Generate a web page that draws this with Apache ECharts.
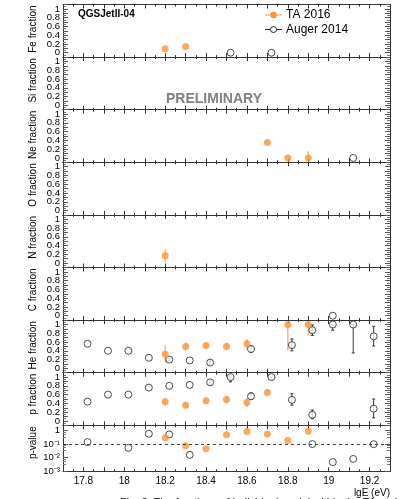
<!DOCTYPE html>
<html>
<head>
<meta charset="utf-8">
<script src="https://cdn.jsdelivr.net/npm/echarts@6/dist/echarts.min.js"></script>
<style>html,body{margin:0;padding:0;background:#fff;}#c{width:403px;height:499px;}</style>
</head>
<body>
<div id="c"></div>
<script>
// ---- data ----
const xTA = [18.2, 18.3, 18.4, 18.5, 18.6, 18.7, 18.8, 18.9];
const xAuger = [17.82, 17.92, 18.02, 18.12, 18.22, 18.32, 18.42, 18.52, 18.62, 18.72, 18.82, 18.92, 19.02, 19.12, 19.22];

const panelNames = ['Fe fraction', 'Si fraction', 'Ne fraction', 'O fraction', 'N fraction', 'C fraction', 'He fraction', 'p fraction', 'p-value'];

const feTA = [0.09, 0.14, null, null, null, null, null, null];
const feAuger = [null, null, null, null, null, null, null, 0, null, 0, null, null, null, null, null];
const siTA = [null, null, null, null, null, null, null, null];
const siAuger = [null, null, null, null, null, null, null, null, null, null, null, null, null, null, null];
const neTA = [null, null, null, null, null, 0.35, 0, 0];
const neTAerr = [null, null, null, null, null, [0.31, 0.39], [0, 0.02], [0, 0.15]];
const neAuger = [null, null, null, null, null, null, null, null, null, null, null, null, null, 0, null];
const oTA = [null, null, null, null, null, null, null, null];
const oAuger = [null, null, null, null, null, null, null, null, null, null, null, null, null, null, null];
const nTA = [0.17, null, null, null, null, null, null, null];
const nTAerr = [[0.02, 0.32], null, null, null, null, null, null, null];
const nAuger = [null, null, null, null, null, null, null, null, null, null, null, null, null, null, null];
const cTA = [null, null, null, null, null, null, null, null];
const cAuger = [null, null, null, null, null, null, null, null, null, null, null, null, 0, null, null];
const heTA = [0.32, 0.50, 0.52, 0.50, 0.56, null, 1.0, 1.0];
const heTAerr = [[0.13, 0.52], [0.41, 0.59], [0.44, 0.60], [0.41, 0.59], [0.46, 0.67], null, [0.40, 1.06], [0.77, 1.06]];
const heAuger = [0.56, 0.40, 0.40, 0.24, 0.20, 0.18, 0.13, null, 0.44, null, 0.53, 0.87, 1.0, 1.0, 0.73];
const heAugerErr = [null, null, null, null, [0.17, 0.23], null, [0.09, 0.17], null, [0.37, 0.51], null, [0.40, 0.67], [0.75, 0.99], [0.87, 1.0], [0.35, 1.0], [0.51, 0.96]];
const pTA = [0.44, 0.36, 0.46, 0.49, 0.42, 0.65, null, null];
const pTAerr = [[0.36, 0.53], [0.30, 0.43], [0.39, 0.54], [0.41, 0.58], [0.32, 0.52], [0.58, 0.73], null, null];
const pAuger = [0.44, 0.60, 0.60, 0.76, 0.80, 0.82, 0.88, 1.0, 0.56, 1.0, 0.48, 0.14, null, null, 0.28];
const pAugerErr = [null, null, null, null, null, null, [0.83, 0.93], [0.89, 1.0], [0.49, 0.64], [0.95, 1.0], [0.36, 0.62], [0.05, 0.25], null, null, [0.07, 0.50]];
const pvalTA = [0.29, 0.074, 0.045, 0.48, 0.85, 0.54, 0.18, 0.89];
const pvalAuger = [0.14, null, 0.053, 0.57, 0.51, 0.016, null, null, null, null, null, 0.10, 0.0047, 0.0081, 0.098];

const xTickLabels = ['17.8', '18', '18.2', '18.4', '18.6', '18.8', '19', '19.2'];
const fracTickLabels = ['0', '0.2', '0.4', '0.6', '0.8', '1'];
const pvalTickLabels = ['1', '10\u207B\u00B9', '10\u207B\u00B2', '10\u207B\u00B3'];

// ---- styling / layout ----
const FONT = 'Liberation Sans, Arial, Helvetica, sans-serif';
const ORANGE = '#f9963a';
const ORANGE_ERR = '#fbb574';
const DARK = '#222';
const AX = '#333';
const G_LEFT = 63, G_W = 327, G_TOP = 4.5, G_H = 52.6, PV_H = 46;

const fracPanels = [
  [feTA, null, feAuger, null],
  [siTA, null, siAuger, null],
  [neTA, neTAerr, neAuger, null],
  [oTA, null, oAuger, null],
  [nTA, nTAerr, nAuger, null],
  [cTA, null, cAuger, null],
  [heTA, heTAerr, heAuger, heAugerErr],
  [pTA, pTAerr, pAuger, pAugerErr]
];

function zip(xs, ys) {
  const out = [];
  xs.forEach((x, i) => { if (ys[i] !== null && ys[i] !== undefined) out.push([x, ys[i]]); });
  return out;
}
function zipErr(xs, es) {
  const out = [];
  if (!es) return out;
  xs.forEach((x, i) => { if (es[i]) out.push([x, es[i][0], es[i][1]]); });
  return out;
}
function errRender(color, lw, cap) {
  return function (params, api) {
    const x = api.value(0), lo = api.value(1), hi = api.value(2);
    const a = api.coord([x, lo]), b = api.coord([x, hi]);
    const ch = [{ type: 'line', shape: { x1: a[0], y1: a[1], x2: b[0], y2: b[1] }, style: { stroke: color, lineWidth: lw } }];
    if (cap) {
      ch.push({ type: 'line', shape: { x1: a[0] - cap, y1: a[1], x2: a[0] + cap, y2: a[1] }, style: { stroke: color, lineWidth: 1 } });
      ch.push({ type: 'line', shape: { x1: b[0] - cap, y1: b[1], x2: b[0] + cap, y2: b[1] }, style: { stroke: color, lineWidth: 1 } });
    }
    return { type: 'group', children: ch };
  };
}

const grids = [], xAxes = [], yAxes = [], series = [], graphics = [];
const nPanels = 9;

function xAxis(gi, pos, labels) {
  return {
    type: 'value', gridIndex: gi, position: pos, min: 17.7, max: 19.3, interval: 0.1,
    axisLine: { show: true, onZero: false, lineStyle: { color: AX, width: 1 } },
    axisTick: { show: true, inside: true, length: 4, lineStyle: { color: AX } },
    minorTick: { show: true, splitNumber: 2, length: 2, lineStyle: { color: AX } },
    splitLine: { show: false }, minorSplitLine: { show: false },
    axisLabel: {
      show: labels, margin: 5, fontSize: 10, color: '#000', fontFamily: FONT,
      formatter: function (v) {
        const r = Math.round(v * 10);
        if (r % 2 !== 0) return '';
        const idx = (r - 178) / 2;
        return xTickLabels[idx] !== undefined ? xTickLabels[idx] : '';
      }
    }
  };
}
function fracYAxis(gi, pos, labels) {
  return {
    type: 'value', gridIndex: gi, position: pos, min: -0.1, max: 1.1, interval: 0.1,
    axisLine: { show: true, onZero: false, lineStyle: { color: AX, width: 1 } },
    axisTick: { show: true, inside: true, length: 5, lineStyle: { color: '#555' } },
    minorTick: { show: true, splitNumber: 2, length: 3, lineStyle: { color: '#777' } },
    splitLine: { show: false }, minorSplitLine: { show: false },
    axisLabel: {
      show: labels, margin: 3, fontSize: 9.5, color: '#000', fontFamily: FONT, lineHeight: 9,
      formatter: function (v) {
        const r = Math.round(v * 10);
        if (r < 0 || r > 10 || r % 2 !== 0) return '';
        return fracTickLabels[r / 2];
      }
    }
  };
}
function pvalYAxis(gi, pos, labels) {
  return {
    type: 'log', logBase: 10, gridIndex: gi, position: pos, min: 0.001, max: 2.4,
    axisLine: { show: true, onZero: false, lineStyle: { color: AX, width: 1 } },
    axisTick: { show: true, inside: true, length: 5, lineStyle: { color: '#555' } },
    minorTick: { show: true, splitNumber: 4, length: 3, lineStyle: { color: '#777' } },
    splitLine: { show: false }, minorSplitLine: { show: false },
    axisLabel: {
      show: labels, margin: 3, fontSize: 9.5, color: '#000', fontFamily: FONT, showMaxLabel: false,
      formatter: function (v) {
        const e = Math.round(Math.log10(v));
        if (Math.abs(Math.log10(v) - e) > 0.01 || e > 0 || e < -3) return '';
        return pvalTickLabels[-e];
      }
    }
  };
}

for (let i = 0; i < nPanels; i++) {
  const top = G_TOP + G_H * i;
  const h = i === 8 ? PV_H : G_H;
  grids.push({ left: G_LEFT, width: G_W, top: top, height: h });
  xAxes.push(xAxis(i, 'bottom', i === 8));
  xAxes.push(xAxis(i, 'top', false));
  if (i < 8) {
    yAxes.push(fracYAxis(i, 'left', true));
    yAxes.push(fracYAxis(i, 'right', false));
  } else {
    yAxes.push(pvalYAxis(i, 'left', true));
    yAxes.push(pvalYAxis(i, 'right', false));
  }
  // y-axis title
  graphics.push({
    type: 'text', x: 33.5, y: top + 1, rotation: Math.PI / 2, silent: true,
    style: { text: panelNames[i], align: 'right', verticalAlign: 'middle', fontSize: 10, fontFamily: FONT, fill: '#000' }
  });
}

const xi = i => i * 2, yi = i => i * 2;
fracPanels.forEach((p, i) => {
  const [ta, taErr, au, auErr] = p;
  series.push({ type: 'custom', xAxisIndex: xi(i), yAxisIndex: yi(i), renderItem: errRender(ORANGE_ERR, 1.5, 0), data: zipErr(xTA, taErr), z: 2, clip: true, silent: true });
  series.push({ type: 'custom', xAxisIndex: xi(i), yAxisIndex: yi(i), renderItem: errRender('#333', 1, 1.5), data: zipErr(xAuger, auErr), z: 2, clip: true, silent: true });
  series.push({ type: 'scatter', xAxisIndex: xi(i), yAxisIndex: yi(i), data: zip(xTA, ta), symbol: 'circle', symbolSize: 7, itemStyle: { color: ORANGE }, z: 4, silent: true });
  series.push({ type: 'scatter', xAxisIndex: xi(i), yAxisIndex: yi(i), data: zip(xAuger, au), symbol: 'circle', symbolSize: 7, itemStyle: { color: '#fff', borderColor: DARK, borderWidth: 1 }, z: 3, silent: true });
});
// p-value panel
series.push({
  type: 'scatter', xAxisIndex: xi(8), yAxisIndex: yi(8), data: zip(xTA, pvalTA), symbol: 'circle', symbolSize: 7, itemStyle: { color: ORANGE }, z: 4, silent: true,
  markLine: { silent: true, symbol: 'none', label: { show: false }, lineStyle: { type: [3, 3], color: '#444', width: 1 }, data: [{ yAxis: 0.1 }], animation: false }
});
series.push({ type: 'scatter', xAxisIndex: xi(8), yAxisIndex: yi(8), data: zip(xAuger, pvalAuger), symbol: 'circle', symbolSize: 7, itemStyle: { color: '#fff', borderColor: DARK, borderWidth: 1 }, z: 3, silent: true });

// labels, legend, annotations
graphics.push(
  { type: 'text', x: 78, y: 14, silent: true, style: { text: 'QGSJetII-04', fontSize: 10, fontWeight: 'bold', fontFamily: FONT, fill: '#000', verticalAlign: 'middle' } },
  { type: 'line', silent: true, shape: { x1: 265, y1: 15, x2: 282, y2: 15 }, style: { stroke: ORANGE, lineWidth: 1 } },
  { type: 'circle', silent: true, shape: { cx: 273.5, cy: 15, r: 3.3 }, style: { fill: ORANGE } },
  { type: 'text', x: 286, y: 15, silent: true, style: { text: 'TA 2016', fontSize: 12, fontFamily: FONT, fill: '#000', verticalAlign: 'middle' } },
  { type: 'line', silent: true, shape: { x1: 265, y1: 29.5, x2: 282, y2: 29.5 }, style: { stroke: '#333', lineWidth: 1 } },
  { type: 'circle', silent: true, shape: { cx: 273.5, cy: 29.5, r: 3 }, style: { fill: '#fff', stroke: DARK, lineWidth: 1 } },
  { type: 'text', x: 286, y: 29.5, silent: true, style: { text: 'Auger 2014', fontSize: 12, fontFamily: FONT, fill: '#000', verticalAlign: 'middle' } },
  { type: 'text', x: 214, y: 99, silent: true, style: { text: 'PRELIMINARY', fontSize: 14, fontWeight: 'bold', fontFamily: FONT, fill: '#808080', align: 'center', verticalAlign: 'middle' } },
  { type: 'text', x: 390, y: 493, silent: true, style: { text: 'lgE (eV)', fontSize: 10, fontFamily: FONT, fill: '#000', align: 'right', verticalAlign: 'middle' } },
  { type: 'text', x: 120, y: 497.5, silent: true, style: { text: 'Fig. 2: The fractions of individual nuclei within the TA and Auger data', fontSize: 11, fontFamily: FONT, fill: '#000', verticalAlign: 'top' } }
);

const chart = echarts.init(document.getElementById('c'), null, { renderer: 'canvas', width: 403, height: 499 });
chart.setOption({
  animation: false,
  backgroundColor: '#fff',
  grid: grids,
  xAxis: xAxes,
  yAxis: yAxes,
  series: series,
  graphic: graphics
});
</script>
</body>
</html>
